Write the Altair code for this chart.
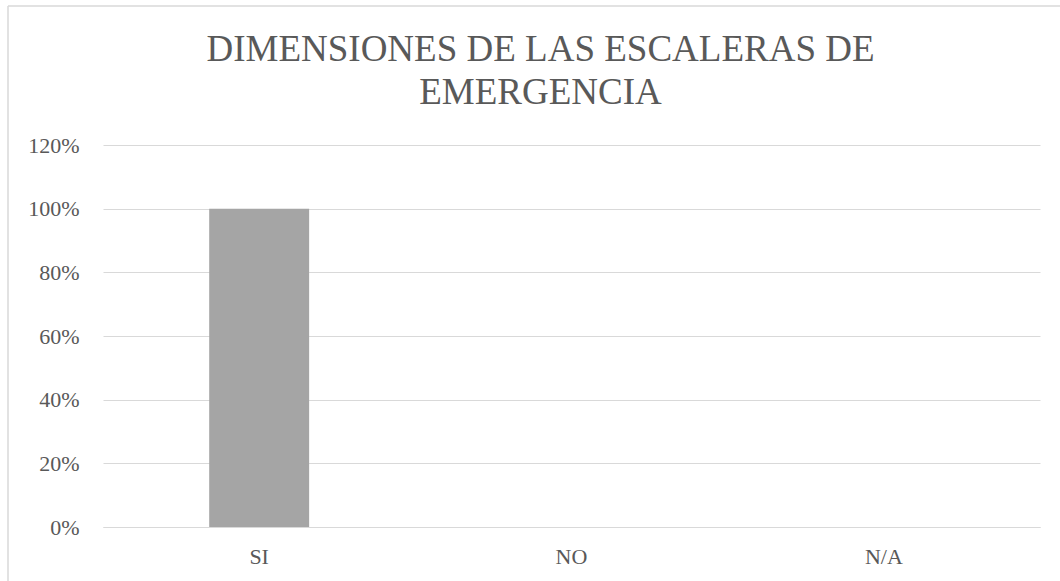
import altair as alt
import pandas as pd

categories = ["SI", "NO", "N/A"]
values = [1.0, 0.0, 0.0]
y_ticks = [0, 0.2, 0.4, 0.6, 0.8, 1.0, 1.2]

df = pd.DataFrame({"cat": categories, "val": values})

FONT = "Liberation Serif"
TXT = "#595959"
GRID = "#d9d9d9"

bars = alt.Chart(df).mark_bar(color="#a5a5a5").encode(
    x=alt.X("cat:N", sort=categories, title=None,
            scale=alt.Scale(paddingInner=0.68, paddingOuter=0.34),
            axis=alt.Axis(labelAngle=0, labelFont=FONT, labelFontSize=22,
                          labelColor=TXT, ticks=False, domain=True,
                          domainColor=GRID, labelPadding=19)),
    y=alt.Y("val:Q", title=None,
            scale=alt.Scale(domain=[0, 1.2]),
            axis=alt.Axis(values=y_ticks, format=".0%", labelFont=FONT,
                          labelFontSize=22, labelColor=TXT, ticks=False,
                          domain=False, gridColor=GRID, labelPadding=24)),
)

border = alt.Chart(alt.Data(values=[{}])).mark_rule(color=GRID, strokeWidth=1.5)
left_border = border.encode(x=alt.value(-95), y=alt.value(-139), y2=alt.value(600))
top_border = border.encode(y=alt.value(-139), x=alt.value(-95), x2=alt.value(1100))

chart = alt.layer(bars, left_border, top_border).properties(
    width=937,
    height=382,
    title=alt.TitleParams(
        text=["DIMENSIONES DE LAS ESCALERAS DE", "EMERGENCIA"],
        font=FONT, fontSize=37, fontWeight="normal", color=TXT,
        lineHeight=43, anchor="middle", offset=0, dy=107, dx=-31,
    ),
    autosize=alt.AutoSizeParams(type="none"),
    padding={"left": 103, "top": 145, "right": 20, "bottom": 54},
).configure(
    background="white", font=FONT
).configure_title(font=FONT).configure_view(stroke=None)

chart.save("out.html", embed_options={"renderer": "svg", "actions": False})
